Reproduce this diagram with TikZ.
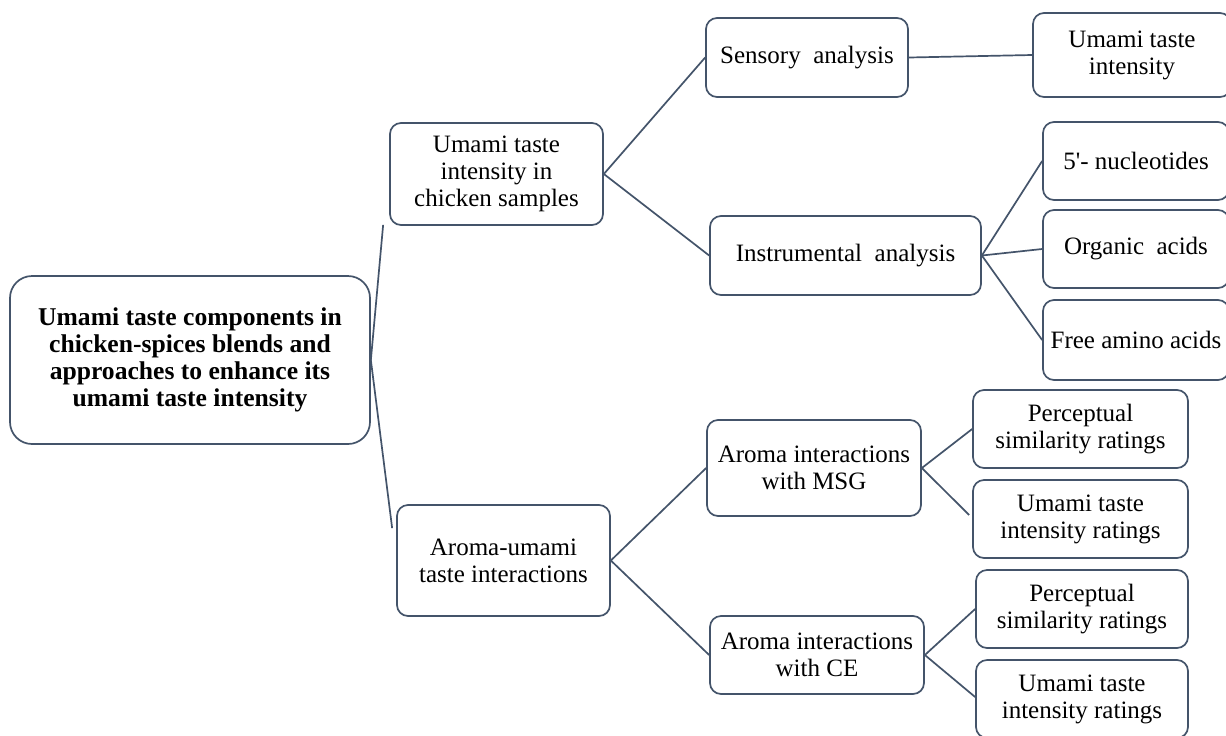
\documentclass[tikz,border=0pt]{standalone}
\usepackage{fontspec}
\setmainfont{Liberation Serif}
\usetikzlibrary{calc}
\definecolor{edgecol}{HTML}{44546A}
\begin{document}
\begin{tikzpicture}[x=0.5pt,y=-0.5pt,
  box/.style={draw=edgecol, line width=0.85pt, rounded corners=5.5pt, align=center,
    inner sep=0pt, fill=white, font=\fontsize{12.5}{13.5}\selectfont},
  rootbox/.style={box, rounded corners=11pt, font=\fontsize{12.8}{13.5}\selectfont\bfseries},
  link/.style={draw=edgecol, line width=0.85pt}]
\useasboundingbox (0,0) rectangle (1226,735);
\fill[white] (0,0) rectangle (1226,735);
\clip (0,0) rectangle (1226,735);

% nodes
\node[rootbox, minimum width=180pt, minimum height=84pt] (root) at (190,360)
  {Umami taste components in\\chicken-spices blends and\\approaches to enhance its\\umami taste intensity};
\node[box, minimum width=106.5pt, minimum height=51pt] (A) at (496.5,174)
  {Umami taste\\intensity in\\chicken samples};
\node[box, minimum width=106.5pt, minimum height=55.5pt] (B) at (503.5,560.5)
  {Aroma-umami\\taste interactions};
\node[box, minimum width=101pt, minimum height=39.5pt] (sens) at (807,57.5)
  {Sensory\ \ analysis};
\node[box, minimum width=135.5pt, minimum height=39.5pt] (instr) at (845.5,255.5)
  {Instrumental\ \ analysis};
\node[box, minimum width=99pt, minimum height=42pt] (uti) at (1132,55)
  {Umami taste\\intensity};
\node[box, minimum width=93pt, minimum height=39pt] (nuc) at (1136,161)
  {5\textquotesingle- nucleotides};
\node[box, minimum width=93pt, minimum height=39pt] (org) at (1136,249)
  {Organic\ \ acids};
\node[box, minimum width=93pt, minimum height=40pt] (faa) at (1136,340)
  {Free amino acids};
\node[box, minimum width=107pt, minimum height=48pt] (msg) at (814,468)
  {Aroma interactions\\with MSG};
\node[box, minimum width=107pt, minimum height=39pt] (ce) at (817,655)
  {Aroma interactions\\with CE};
\node[box, minimum width=107.5pt, minimum height=39pt] (psa) at (1080.5,429)
  {Perceptual\\similarity ratings};
\node[box, minimum width=107.5pt, minimum height=39pt] (uta) at (1080.5,519)
  {Umami taste\\intensity ratings};
\node[box, minimum width=106pt, minimum height=39pt] (psb) at (1082,609)
  {Perceptual\\similarity ratings};
\node[box, minimum width=106pt, minimum height=39pt] (utb) at (1082,699)
  {Umami taste\\intensity ratings};

% connectors
\draw[link] (root.east) -- ($(A.south west)+(-6,-1)$);
\draw[link] (root.east) -- ($(B.north west)+(-4,24)$);
\draw[link] (A.east) -- (sens.west);
\draw[link] (A.east) -- (instr.west);
\draw[link] (sens.east) -- (uti.west);
\draw[link] (instr.east) -- (nuc.west);
\draw[link] (instr.east) -- (org.west);
\draw[link] (instr.east) -- (faa.west);
\draw[link] (B.east) -- (msg.west);
\draw[link] (B.east) -- (ce.west);
\draw[link] (msg.east) -- (psa.west);
\draw[link] (msg.east) -- ($(uta.west)+(-3,-4)$);
\draw[link] (ce.east) -- (psb.west);
\draw[link] (ce.east) -- ($(utb.west)+(0,-2)$);
\end{tikzpicture}
\end{document}
